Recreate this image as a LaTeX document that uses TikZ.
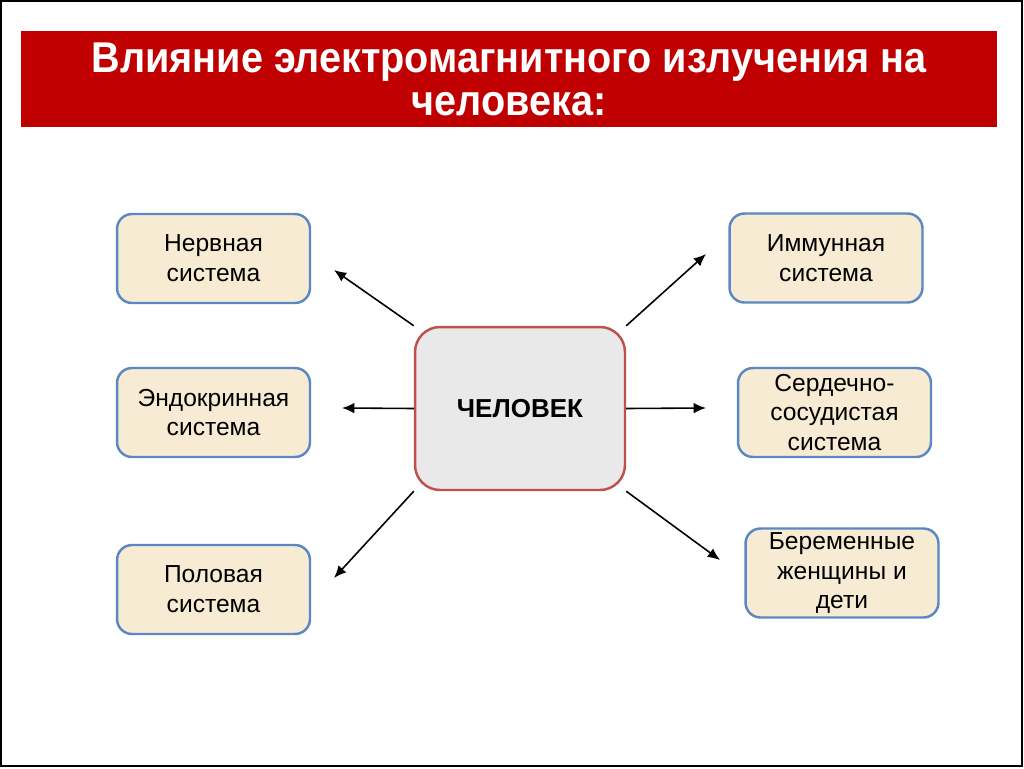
\documentclass[tikz,border=0pt]{standalone}
\usepackage{fontspec}
\setmainfont{Liberation Sans}
\newfontfamily\titlefont[FakeStretch=0.92]{Liberation Sans Bold}
\usetikzlibrary{arrows.meta}
\definecolor{bannerred}{HTML}{C00000}
\definecolor{boxblue}{HTML}{5B87C2}
\definecolor{boxfill}{HTML}{F7ECD3}
\definecolor{manred}{HTML}{C0504D}
\definecolor{manfill}{HTML}{E9E9E9}
\tikzset{
  banner/.style={fill=bannerred, text=white, minimum width=19.52cm, minimum height=1.92cm,
    align=center, inner sep=0pt, font=\titlefont\fontsize{24.5}{24.5}\selectfont},
  sysbox/.style={draw=boxblue, line width=1.4pt, fill=boxfill, rounded corners=0.3cm,
    minimum width=3.86cm, minimum height=1.78cm, align=center, inner sep=0pt,
    font=\fontsize{14}{17}\selectfont},
  manbox/.style={draw=manred, line width=1.4pt, fill=manfill, rounded corners=0.5cm,
    minimum width=4.2cm, minimum height=3.26cm, inner sep=0pt,
    font=\bfseries\fontsize{14.8}{17}\selectfont},
  effect/.style={-{Latex[length=7pt,width=6pt]}, line width=0.9pt}
}
\begin{document}
\begin{tikzpicture}[x=0.02cm, y=-0.02cm]
      \useasboundingbox (0,0) rectangle (1024,768);
      \draw[line width=1pt] (1,1) rectangle (1022,766);
      \node[banner] (title) at (509,79) {Влияние электромагнитного излучения на\\человека:};
      \node[manbox] (man) at (520,408.5) {ЧЕЛОВЕК};
      \draw
        (213.5,258.5) node[sysbox] (nerv){Нервная\\система}
        (213.5,412.5) node[sysbox] (endo){Эндокринная\\система}
        (213.5,589.5) node[sysbox] (polov){Половая\\система}
        (826,258) node[sysbox] (immun){Иммунная\\система}
        (834.5,412.5) node[sysbox] (serd){Сердечно-\\сосудистая\\система}
        (842,573) node[sysbox] (berem){Беременные\\женщины и\\дети};
      \coordinate (nervtip) at (334,270);
      \coordinate (endotip) at (342,408);
      \coordinate (polovtip) at (334,578);
      \coordinate (immuntip) at (706,254);
      \coordinate (serdtip) at (706,408);
      \coordinate (beremtip) at (720,560);
      \begin{scope}[effect]
        \draw (man.north west) to (nervtip);
        \draw (man.west) to (endotip);
        \draw (man.south west) to (polovtip);
        \draw (man.north east) to (immuntip);
        \draw (man.east) to (serdtip);
        \draw (man.south east) to (beremtip);
      \end{scope}
    \end{tikzpicture}
\end{document}
